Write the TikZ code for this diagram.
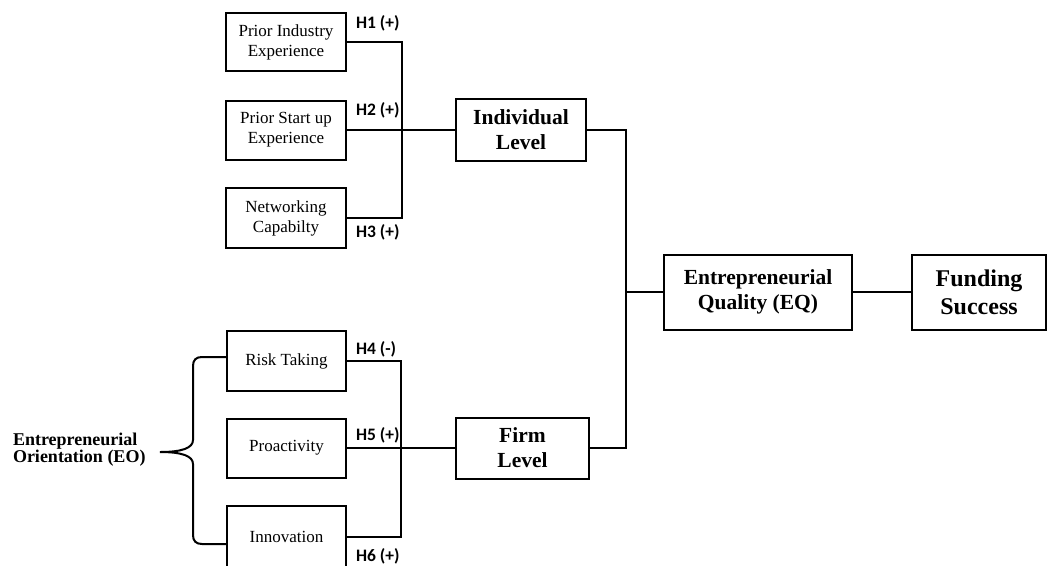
\documentclass[tikz,border=0pt]{standalone}
\usepackage{fontspec}
\setmainfont{Liberation Serif}
\newfontfamily\hfont{Carlito}
\begin{document}
\begin{tikzpicture}[x=1pt,y=-1pt, line width=2pt,
  box/.style={draw, line width=2pt, inner sep=0pt, align=center, font=\fontsize{17}{20}\selectfont},
  bbox/.style={box, font=\fontsize{21.5}{25}\selectfont\bfseries},
  hyp/.style={anchor=west, inner sep=0pt, font=\hfont\bfseries\fontsize{17.5}{20}\selectfont},
  conn/.style={line width=2pt}]
\useasboundingbox (0,0) rectangle (1048,565);
\clip (0,0) rectangle (1048,565);

% top group
\node[box, minimum width=120pt, minimum height=58pt] (pie) at (286,42) {Prior Industry\\Experience};
\node[box, minimum width=120pt, minimum height=59pt] (pse) at (286,130) {Prior Start up\\Experience};
\node[box, minimum width=120pt, minimum height=60pt] (nc) at (286,218) {Networking\\Capabilty};
\node[bbox, minimum width=130pt, minimum height=62pt] (ind) at (521,130) {Individual\\Level};

% bottom group
\node[box, minimum width=119pt, minimum height=60pt] (rt) at (286.5,361) {Risk Taking};
\node[box, minimum width=119pt, minimum height=59pt] (pro) at (286.5,448) {Proactivity};
\node[box, minimum width=119pt, minimum height=62pt] (inn) at (286.5,537) {Innovation};
\node[bbox, minimum width=133pt, minimum height=61pt] (firm) at (522.5,448) {Firm\\Level};

% right
\node[bbox, minimum width=188pt, minimum height=75pt] (eq) at (758,292) {Entrepreneurial\\Quality (EQ)};
\node[box, font=\fontsize{24}{28}\selectfont\bfseries, minimum width=134pt, minimum height=75pt] (fs) at (979,292) {Funding\\Success};

% EO label
\node[anchor=west, align=left, inner sep=0pt, font=\fontsize{18}{16}\selectfont\bfseries] (eo) at (12,450) {Entrepreneurial\\Orientation (EO)};

% hypothesis labels
\node[hyp] (h1) at (355,23) {H1 (+)};
\node[hyp] (h2) at (355,110) {H2 (+)};
\node[hyp] (h3) at (355,232) {H3 (+)};
\node[hyp] (h4) at (355,349) {H4 (-)};
\node[hyp] (h5) at (355,435) {H5 (+)};
\node[hyp] (h6) at (355,556) {H6 (+)};

% connectors
\coordinate (jt) at (402,130);
\coordinate (jb) at (401,448);
\coordinate (jr) at (626,292);
\draw[conn] (pie.east) -| (jt) |- (nc.east);
\draw[conn] (pse.east) -- (ind.west);
\draw[conn] (rt.east) -| (jb) |- (inn.east);
\draw[conn] (pro.east) -- (firm.west);
\draw[conn] (ind.east) -| (jr) |- (firm.east);
\draw[conn] (jr) -- (eq.west);
\draw[conn] (eq.east) -- (fs.west);

% brace
\coordinate (bt) at (227,357);
\coordinate (bb) at (227,544);
\coordinate (tip) at (160,452);
\draw[conn] (bt) -- (202,357) .. controls (196,357) and (193,360) .. (193,366)
  -- (193,440) .. controls (193,448) and (182,452) .. (tip)
  .. controls (182,452) and (193,456) .. (193,464)
  -- (193,535) .. controls (193,541) and (196,544) .. (202,544) -- (bb);
\end{tikzpicture}
\end{document}
